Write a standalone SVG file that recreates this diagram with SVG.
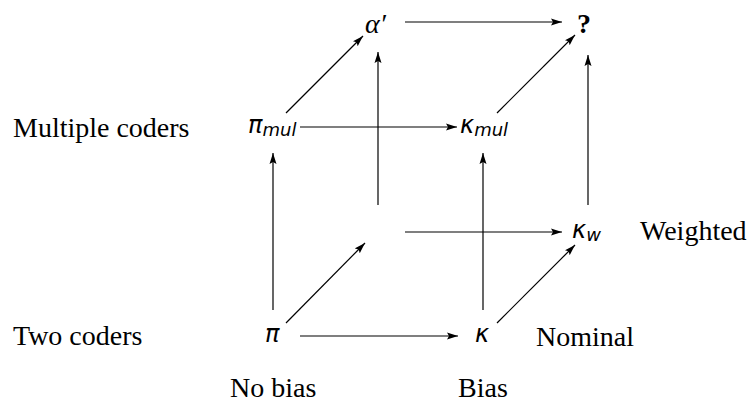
<svg xmlns="http://www.w3.org/2000/svg" width="750" height="403" viewBox="0 0 750 403">
<style>
.lbl{font-family:"Liberation Serif","Times New Roman",serif;font-size:28px;fill:#000}
.sym{font-family:"DejaVu Sans","Liberation Sans",sans-serif;font-style:oblique;font-size:24px;fill:#000}
.sub{font-family:"DejaVu Sans","Liberation Sans",sans-serif;font-style:oblique;font-size:18px;fill:#000}
.ser{font-family:"Liberation Serif","Times New Roman",serif;font-style:italic;font-size:28px;fill:#000}
.q{font-family:"Liberation Serif","Times New Roman",serif;font-weight:bold;font-size:28px;fill:#000}
.c line{stroke:#000;stroke-width:1.2;fill:none}
.c line.a{marker-end:url(#ah)}
</style>
<defs>
<marker id="ah" markerUnits="userSpaceOnUse" markerWidth="12" markerHeight="8" refX="11" refY="4" orient="auto">
<path d="M0,0.5 L11,4 L0,7.5 L2,4 z" fill="#000"/>
</marker>
</defs>
<rect width="750" height="403" fill="#fff"/>
<g id="labels">
<text class="lbl" x="13" y="137">Multiple coders</text>
<text class="lbl" x="13" y="345">Two coders</text>
<text class="lbl" x="230" y="397">No bias</text>
<text class="lbl" x="458" y="397">Bias</text>
<text class="lbl" x="536" y="346">Nominal</text>
<text class="lbl" x="640" y="240">Weighted</text>
</g>
<g id="n-alpha"><text class="ser" x="365" y="33">α′</text></g>
<g id="n-q"><text class="q" x="577" y="33">?</text></g>
<g id="n-pimul"><text class="sym" x="248" y="133">π<tspan class="sub" dy="3">mul</tspan></text></g>
<g id="n-kmul"><text class="sym" x="460" y="133">κ<tspan class="sub" dy="3">mul</tspan></text></g>
<g id="n-empty"></g>
<g id="n-kw"><text class="sym" x="572" y="238">κ<tspan class="sub" dy="3">w</tspan></text></g>
<g id="n-pi"><text class="sym" x="265" y="342">π</text></g>
<g id="n-k"><text class="sym" x="475" y="342">κ</text></g>
<g class="c" id="connectors">
<line class="a" x1="300" y1="127" x2="457" y2="127"/>
<line class="a" x1="405" y1="22" x2="562" y2="22"/>
<line class="a" x1="405" y1="232" x2="562" y2="232"/>
<line class="a" x1="300" y1="336" x2="458" y2="336"/>
<line class="a" x1="273" y1="310" x2="273" y2="153"/>
<line class="a" x1="483" y1="310" x2="483" y2="153"/>
<line class="a" x1="378" y1="205" x2="378" y2="52"/>
<line class="a" x1="588" y1="205" x2="588" y2="55"/>
<line class="a" x1="286" y1="113" x2="363" y2="36"/>
<line class="a" x1="497" y1="113" x2="575" y2="35"/>
<line class="a" x1="286" y1="323" x2="365" y2="243"/>
<line class="a" x1="497" y1="323" x2="575" y2="245"/>
</g>
</svg>
